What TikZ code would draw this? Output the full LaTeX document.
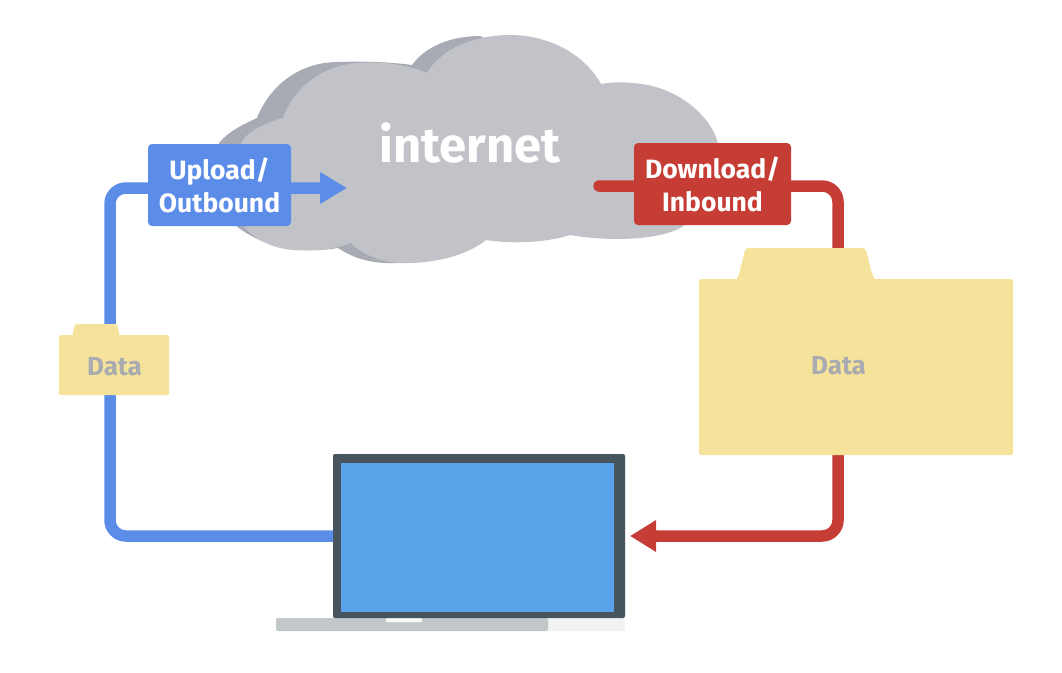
\documentclass[tikz,border=0pt]{standalone}
\usepackage{fontspec}
\setmainfont{Fira Sans}[BoldFont={Fira Sans Bold}]
\usetikzlibrary{arrows.meta}
\definecolor{cloudfront}{HTML}{C1C3C8}
\definecolor{cloudback}{HTML}{A8ABB3}
\definecolor{upblue}{HTML}{5B8DE8}
\definecolor{downred}{HTML}{C53D35}
\definecolor{folderyellow}{HTML}{F5E39B}
\definecolor{datagrey}{HTML}{A9ABB0}
\definecolor{framedark}{HTML}{47565E}
\definecolor{screenblue}{HTML}{5AA2EA}
\definecolor{basegrey}{HTML}{C2C8CA}
\definecolor{baselight}{HTML}{F1F3F3}
\tikzset{
  labelbox/.style={rounded corners=4pt,inner sep=0pt,text=white,font=\fontsize{26.5}{33}\selectfont\bfseries,align=center},
  folderbody/.style={fill=folderyellow,rounded corners=1.5pt,inner sep=0pt},
  datatext/.style={inner sep=0pt,text=datagrey,font=\fontsize{26}{30}\selectfont\bfseries},
  upline/.style={draw=upblue,line width=11.5pt},
  downline/.style={draw=downred,line width=11.5pt},
  part/.style={inner sep=0pt,outer sep=0pt},
}
\begin{document}
\begin{tikzpicture}[x=1pt,y=-1pt]
\useasboundingbox (0,0) rectangle (1062,672);
% cloud, back layer
\fill[cloudback] (219,143)
  .. controls (228,132) and (240,126) .. (257,118)
  .. controls (270,85) and (300,62) .. (338,62)
  .. controls (365,61) and (390,62) .. (412,65)
  .. controls (425,47) and (450,36) .. (480,36)
  -- (530,60) -- (620,150) -- (660,232)
  .. controls (630,241) and (590,240) .. (570,232)
  .. controls (545,240) and (510,241) .. (486,237)
  .. controls (465,258) and (425,264) .. (385,263)
  .. controls (365,262) and (350,256) .. (338,248)
  .. controls (310,253) and (275,250) .. (250,235)
  .. controls (230,225) and (214,205) .. (214,180)
  .. controls (214,165) and (214,155) .. (219,143) -- cycle;
% cloud, front layer
\fill[cloudfront] (245,137)
  .. controls (255,128) and (268,122) .. (283,118)
  .. controls (295,85) and (325,65) .. (358,63)
  .. controls (383,61) and (408,65) .. (427,73)
  .. controls (442,48) and (475,35) .. (510,35)
  .. controls (550,35) and (585,55) .. (601,84)
  .. controls (612,82) and (622,82) .. (632,83)
  .. controls (672,85) and (705,110) .. (716,137)
  .. controls (724,160) and (722,200) .. (682,227)
  .. controls (660,240) and (610,242) .. (570,235)
  .. controls (545,243) and (510,244) .. (486,240)
  .. controls (465,257) and (430,264) .. (400,263)
  .. controls (380,262) and (362,254) .. (351,243)
  .. controls (330,251) and (310,251) .. (293,250)
  .. controls (268,248) and (245,235) .. (238,215)
  .. controls (230,190) and (232,155) .. (245,137) -- cycle;
\node[part,text=white,font=\fontsize{49}{52}\selectfont\bfseries] (cloudlabel) at (470,143) {internet};
\coordinate (blcorner) at (110,536);
\coordinate (ulcorner) at (110,188);
\coordinate (uptip) at (347,188);
\coordinate (dstart) at (599,186);
\coordinate (drcorner) at (838,186);
\coordinate (dbcorner) at (838,536);
\coordinate (dtip) at (630,536);
\coordinate (framewest) at (333,536);
\draw[upline,rounded corners=16pt,-{Triangle[length=27pt,width=30pt]}] (framewest) -- (blcorner) -- (ulcorner) -- (uptip);
\draw[downline,rounded corners=16pt,-{Triangle[length=26pt,width=30pt]}] (dstart) -- (drcorner) -- (dbcorner) -- (dtip);
\fill[downred] (dstart) circle (5.75pt);
% small folder
\fill[folderyellow,rounded corners=1.5pt] (72,337) -- (75,324) -- (117,324) -- (120,337) -- cycle;
\node[folderbody,minimum width=110pt,minimum height=60pt] (smallfolder) at (114,365) {};
\node[datatext] (smalldata) at (114.5,367) {Data};
% big folder
\fill[folderyellow,rounded corners=2pt] (733,281) .. controls (738,279) and (739,275) .. (745,250) -- (746,248) -- (864,248) -- (866,250) .. controls (870,265) and (872,279) .. (879,281) -- cycle;
\node[folderbody,minimum width=314pt,minimum height=176pt] (bigfolder) at (856,367) {};
\node[datatext] (bigdata) at (838.5,366) {Data};
% label boxes
\node[labelbox,fill=upblue,minimum width=143pt,minimum height=82pt] (upload) at (219.5,185) {Upload/\\Outbound};
\node[labelbox,fill=downred,minimum width=157pt,minimum height=82pt] (download) at (712.5,184) {Download/\\Inbound};
% laptop
\node[part,fill=baselight,minimum width=349pt,minimum height=13pt] (baseall) at (450.5,624.5) {};
\node[part,fill=basegrey,rounded corners=2pt,minimum width=272pt,minimum height=13pt] (base) at (412,624.5) {};
\node[part,fill=white!90!basegrey,rounded corners=1pt,minimum width=36pt,minimum height=4pt] (notch) at (404,620) {};
\node[part,fill=framedark,rounded corners=2pt,minimum width=292pt,minimum height=164pt] (frame) at (479,536) {};
\node[part,fill=screenblue,minimum width=273pt,minimum height=149pt] (screen) at (477.5,537.5) {};
\end{tikzpicture}
\end{document}
